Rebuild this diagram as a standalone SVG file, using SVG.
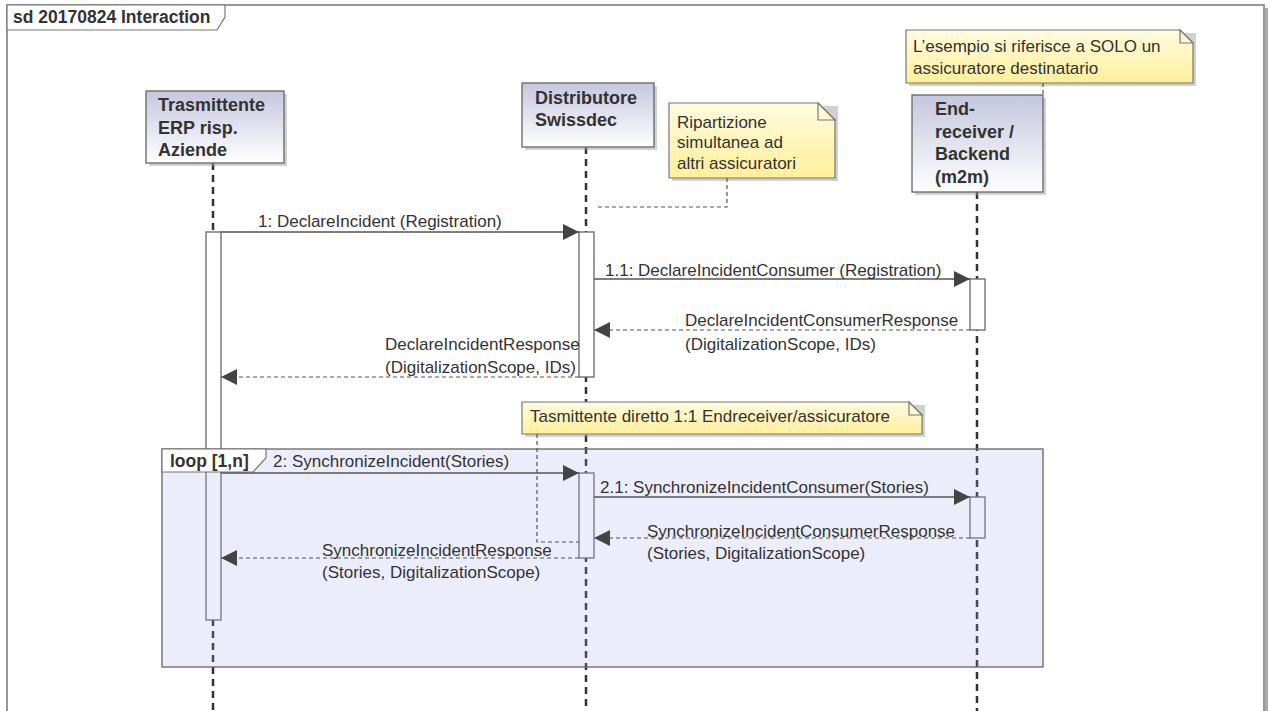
<svg xmlns="http://www.w3.org/2000/svg" width="1270" height="711" viewBox="0 0 1270 711">
  <defs>
    <linearGradient id="lifelineFill" x1="0" y1="0" x2="0" y2="1">
      <stop offset="0" stop-color="#c4c7de"/>
      <stop offset="1" stop-color="#ffffff"/>
    </linearGradient>
    <linearGradient id="noteFill" x1="0" y1="0" x2="0" y2="1">
      <stop offset="0" stop-color="#fffbe0"/>
      <stop offset="1" stop-color="#fff09a"/>
    </linearGradient>
    <marker id="solidHead" markerUnits="userSpaceOnUse" markerWidth="18" markerHeight="18" refX="16" refY="8" orient="auto">
      <path d="M0,0 L16,8 L0,16 Z" fill="#444"/>
    </marker>
    <style>
      .frame { fill: none; stroke: #777; stroke-width: 1.5; }
      .tab { fill: #fff; stroke: #777; stroke-width: 1.2; }
      .title { font-family: "Liberation Sans", Arial, sans-serif; font-size: 17.5px; font-weight: bold; fill: #333; }
      .head { fill: url(#lifelineFill); stroke: #666; stroke-width: 1.3; }
      .shadow { fill: #999; opacity: 0.45; }
      .hname { font-family: "Liberation Sans", Arial, sans-serif; font-size: 18px; font-weight: bold; fill: #333; }
      .life { stroke: #333; stroke-width: 2.5; stroke-dasharray: 7 5; fill: none; }
      .bar { fill: #fff; stroke: #666; stroke-width: 1.3; }
      .note { fill: url(#noteFill); stroke: #777; stroke-width: 1.2; }
      .fold { fill: #fff8d0; stroke: #777; stroke-width: 1.2; }
      .ntext { font-family: "Liberation Sans", Arial, sans-serif; font-size: 17px; fill: #333; }
      .anchor { stroke: #555; stroke-width: 1.2; stroke-dasharray: 4 3; fill: none; }
      .loop { fill: #9aa5ea; fill-opacity: 0.2; stroke: #666; stroke-width: 1.3; }
      .msg { stroke: #555; stroke-width: 1.5; fill: none; marker-end: url(#solidHead); }
      .ret { stroke: #555; stroke-width: 1.2; stroke-dasharray: 4 3; fill: none; marker-end: url(#solidHead); }
      .label { font-family: "Liberation Sans", Arial, sans-serif; font-size: 17px; fill: #333; }
    </style>
  </defs>

  <rect width="1270" height="711" fill="#fff"/>

  <!-- interaction frame -->
  <g id="frame">
    <rect x="1265" y="8" width="3" height="703" fill="#aaa"/>
    <path class="frame" d="M7,711 V5 H1264 V711"/>
    <path class="tab" d="M7,5 H225 V17 L217,30 H7 Z"/>
    <text class="title" x="13" y="23">sd 20170824 Interaction</text>
  </g>

  <!-- lifeline stems -->
  <g id="lifelines">
    <line class="life" x1="213" y1="163" x2="213" y2="711"/>
    <line class="life" x1="586" y1="147" x2="586" y2="711"/>
    <line class="life" x1="977" y1="192" x2="977" y2="711"/>
  </g>

  <!-- participant heads -->
  <g id="trasmittente">
    <rect class="shadow" x="149" y="94" width="138" height="72"/>
    <rect class="head" x="146" y="91" width="138" height="72"/>
    <text class="hname" x="158" y="111">Trasmittente</text>
    <text class="hname" x="158" y="134">ERP risp.</text>
    <text class="hname" x="158" y="156">Aziende</text>
  </g>
  <g id="distributore">
    <rect class="shadow" x="525" y="86" width="132" height="64"/>
    <rect class="head" x="522" y="83" width="132" height="64"/>
    <text class="hname" x="535" y="104">Distributore</text>
    <text class="hname" x="535" y="126">Swissdec</text>
  </g>
  <g id="endreceiver">
    <rect class="shadow" x="915" y="98" width="131" height="97"/>
    <rect class="head" x="912" y="95" width="131" height="97"/>
    <text class="hname" x="935" y="115">End-</text>
    <text class="hname" x="935" y="138">receiver /</text>
    <text class="hname" x="935" y="160">Backend</text>
    <text class="hname" x="935" y="183">(m2m)</text>
  </g>

  <!-- activation bars -->
  <g id="activations">
    <rect class="bar" x="206" y="232" width="15" height="388"/>
    <rect class="bar" x="579" y="232" width="15" height="145"/>
    <rect class="bar" x="970" y="279" width="15" height="51"/>
    <rect class="bar" x="579" y="473" width="15" height="85"/>
    <rect class="bar" x="970" y="497" width="15" height="41"/>
  </g>

  <!-- loop fragment -->
  <g id="loop">
    <rect class="loop" x="162" y="449" width="881" height="218"/>
    <path class="tab" d="M162,449 H266 V458 L253,472 H162 Z"/>
    <text class="title" x="170" y="467">loop [1,n]</text>
  </g>

  <!-- notes -->
  <g id="note-ripartizione">
    <rect class="shadow" x="672" y="106" width="166" height="75"/>
    <path class="note" d="M669,103 H818 L835,120 V178 H669 Z"/>
    <path class="fold" d="M818,103 V120 H835 Z"/>
    <text class="ntext" x="677" y="128">Ripartizione</text>
    <text class="ntext" x="677" y="148">simultanea ad</text>
    <text class="ntext" x="677" y="169">altri assicuratori</text>
  </g>
  <g id="note-esempio">
    <rect class="shadow" x="909" y="33" width="287" height="53"/>
    <path class="note" d="M906,30 H1180 L1193,43 V83 H906 Z"/>
    <path class="fold" d="M1180,30 V43 H1193 Z"/>
    <text class="ntext" x="913" y="52">L’esempio si riferisce a SOLO un</text>
    <text class="ntext" x="913" y="74">assicuratore destinatario</text>
  </g>
  <g id="note-tasmittente">
    <rect class="shadow" x="525" y="405" width="400" height="32"/>
    <path class="note" d="M522,402 H909 L922,415 V434 H522 Z"/>
    <path class="fold" d="M909,402 V415 H922 Z"/>
    <text class="ntext" x="530" y="422">Tasmittente diretto 1:1 Endreceiver/assicuratore</text>
  </g>

  <!-- messages and note anchors -->
  <g id="connectors">
    <path class="anchor" d="M727,178 V207 H595"/>
    <path class="anchor" d="M1043,83 V95"/>
    <path class="anchor" d="M537,434 V542 H579"/>

    <line class="msg" x1="221" y1="232" x2="579" y2="232"/>
    <text class="label" x="258" y="227">1: DeclareIncident (Registration)</text>

    <line class="msg" x1="594" y1="279" x2="970" y2="279"/>
    <text class="label" x="605" y="276">1.1: DeclareIncidentConsumer (Registration)</text>

    <line class="ret" x1="970" y1="330" x2="594" y2="330"/>
    <text class="label" x="685" y="326">DeclareIncidentConsumerResponse</text>
    <text class="label" x="685" y="350">(DigitalizationScope, IDs)</text>

    <line class="ret" x1="579" y1="377" x2="221" y2="377"/>
    <text class="label" x="385" y="350">DeclareIncidentResponse</text>
    <text class="label" x="385" y="373">(DigitalizationScope, IDs)</text>

    <line class="msg" x1="221" y1="473" x2="579" y2="473"/>
    <text class="label" x="273" y="467">2: SynchronizeIncident(Stories)</text>

    <line class="msg" x1="594" y1="497" x2="970" y2="497"/>
    <text class="label" x="600" y="493">2.1: SynchronizeIncidentConsumer(Stories)</text>

    <line class="ret" x1="970" y1="538" x2="594" y2="538"/>
    <text class="label" x="647" y="537">SynchronizeIncidentConsumerResponse</text>
    <text class="label" x="647" y="559">(Stories, DigitalizationScope)</text>

    <line class="ret" x1="579" y1="558" x2="221" y2="558"/>
    <text class="label" x="322" y="556">SynchronizeIncidentResponse</text>
    <text class="label" x="322" y="578">(Stories, DigitalizationScope)</text>
  </g>
</svg>
